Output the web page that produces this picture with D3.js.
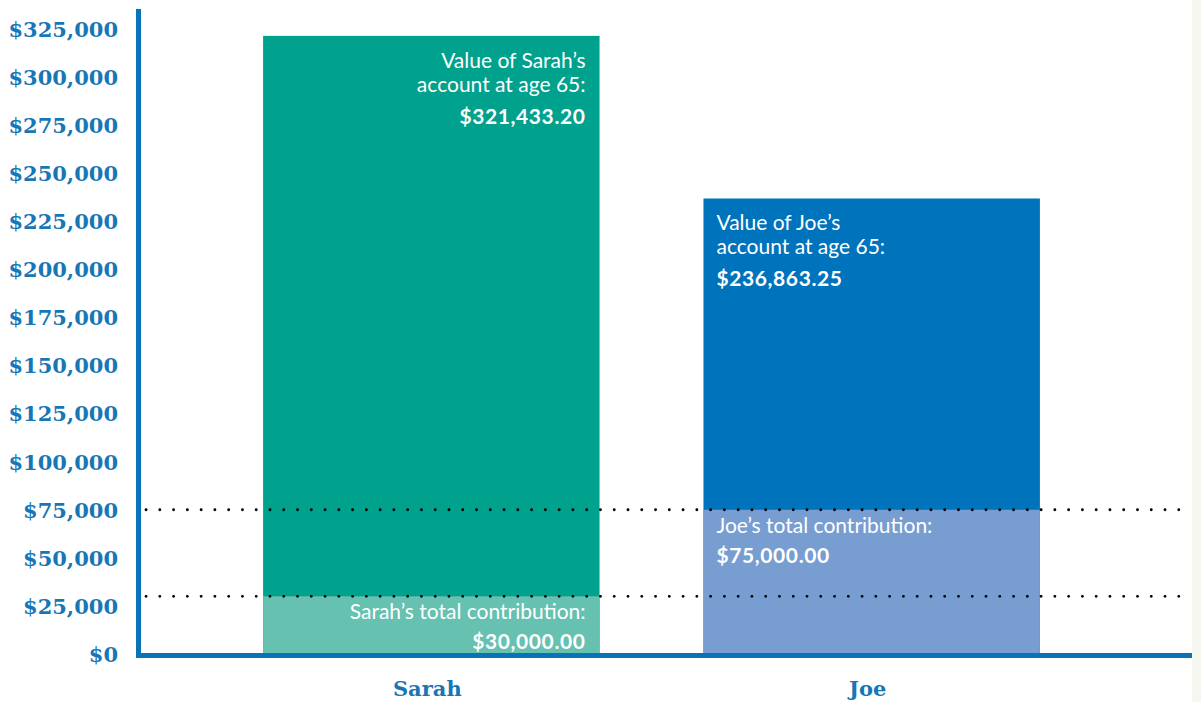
<!DOCTYPE html>
<html>
<head>
<meta charset="utf-8">
<script src="https://cdn.jsdelivr.net/npm/d3@7"></script>
<style>
  body { margin: 0; background: #fff; }
  .tick text { font-family: "DejaVu Serif", serif; font-weight: bold; fill: #1777b6; }
  .inbar { font-family: Lato, sans-serif; fill: #fff; font-size: 21px; }
  .inbar.val { font-weight: bold; letter-spacing: 0.6px; }
</style>
</head>
<body>
<svg id="chart" width="1201" height="702"></svg>
<script>
// chart data
var people = ["Sarah", "Joe"];
var finalValues = [321433.20, 236863.25];
var contributions = [30000, 75000];
var finalLabels = ["$321,433.20", "$236,863.25"];
var contribLabels = ["$30,000.00", "$75,000.00"];
var yTicks = [0, 25000, 50000, 75000, 100000, 125000, 150000, 175000, 200000, 225000, 250000, 275000, 300000, 325000];
var topColors = ["#00a18d", "#0073bd"];
var lowColors = ["#66c1b1", "#779dd1"];

var svgWidth = 1201, svgHeight = 702;
var svg = d3.select("#chart");

// light strip at the right edge
svg.append("rect")
  .attr("x", 1192).attr("y", 0)
  .attr("width", svgWidth - 1192).attr("height", svgHeight)
  .attr("fill", "#f4f7ee");

var yScale = d3.scaleLinear()
  .domain([0, 325000])
  .range([654, 29]);

var xScale = d3.scaleBand()
  .domain(people)
  .range([153, 1150])
  .paddingInner(0.236)
  .paddingOuter(0.25);

var groups = svg.selectAll("g.bar")
  .data(people)
  .enter().append("g")
  .attr("class", "bar");

// full account value
groups.append("rect")
  .attr("x", function(d) { return xScale(d); })
  .attr("width", xScale.bandwidth())
  .attr("y", function(d, i) { return yScale(finalValues[i]); })
  .attr("height", function(d, i) { return yScale(0) - yScale(finalValues[i]); })
  .attr("fill", function(d, i) { return topColors[i]; });

// contributions part
groups.append("rect")
  .attr("x", function(d) { return xScale(d); })
  .attr("width", xScale.bandwidth())
  .attr("y", function(d, i) { return yScale(contributions[i]); })
  .attr("height", function(d, i) { return yScale(0) - yScale(contributions[i]); })
  .attr("fill", function(d, i) { return lowColors[i]; });

// text inside bars: Sarah right aligned, Joe left aligned
groups.each(function(d, i) {
  var g = d3.select(this);
  var right = i === 0;
  var tx = right ? xScale(d) + xScale.bandwidth() - 14 : xScale(d) + 13;
  var anchor = right ? "end" : "start";
  var top = yScale(finalValues[i]);
  g.append("text").attr("class", "inbar")
    .attr("x", tx).attr("y", top + 32)
    .attr("text-anchor", anchor)
    .text("Value of " + d + "\u2019s");
  g.append("text").attr("class", "inbar")
    .attr("x", tx).attr("y", top + 56)
    .attr("text-anchor", anchor)
    .text("account at age 65:");
  g.append("text").attr("class", "inbar val")
    .attr("x", tx).attr("y", top + 88)
    .attr("text-anchor", anchor)
    .text(finalLabels[i]);

  var ctop = yScale(contributions[i]);
  g.append("text").attr("class", "inbar")
    .attr("x", tx).attr("y", ctop + 23)
    .attr("text-anchor", anchor)
    .text(d + "\u2019s total contribution:");
  g.append("text").attr("class", "inbar val")
    .attr("x", tx).attr("y", ctop + 53)
    .attr("text-anchor", anchor)
    .text(contribLabels[i]);
});

// dotted reference lines at the contribution levels
svg.selectAll("line.dots")
  .data(contributions)
  .enter().append("line")
  .attr("class", "dots")
  .attr("x1", 146).attr("x2", 1192)
  .attr("y1", function(d) { return yScale(d); })
  .attr("y2", function(d) { return yScale(d); })
  .attr("stroke", "#000")
  .attr("stroke-width", 2.8)
  .attr("stroke-linecap", "round")
  .attr("stroke-dasharray", "0.1 13.67");

// y axis
var yAxis = d3.axisLeft(yScale)
  .tickValues(yTicks)
  .tickSize(0)
  .tickPadding(0)
  .tickFormat(function(d) { return "$" + d3.format(",")(d); });

var yg = svg.append("g")
  .attr("transform", "translate(118,0)")
  .call(yAxis);
yg.select(".domain").remove();
yg.selectAll("text").style("font-size", "21px").attr("dy", "0.35em");

// axis lines
svg.append("line")
  .attr("x1", 138.5).attr("x2", 138.5)
  .attr("y1", 9).attr("y2", 658)
  .attr("stroke", "#0873b6").attr("stroke-width", 5);
svg.append("line")
  .attr("x1", 136).attr("x2", 1192)
  .attr("y1", 655.5).attr("y2", 655.5)
  .attr("stroke", "#0873b6").attr("stroke-width", 5);

// category labels
svg.selectAll("text.cat")
  .data(people)
  .enter().append("text")
  .attr("class", "cat")
  .attr("x", function(d) { return xScale(d) + xScale.bandwidth() / 2 - 4; })
  .attr("y", 696)
  .attr("text-anchor", "middle")
  .style("font-family", "DejaVu Serif, serif")
  .style("font-weight", "bold")
  .style("font-size", "21px")
  .style("fill", "#1777b6")
  .text(function(d) { return d; });
</script>
</body>
</html>
